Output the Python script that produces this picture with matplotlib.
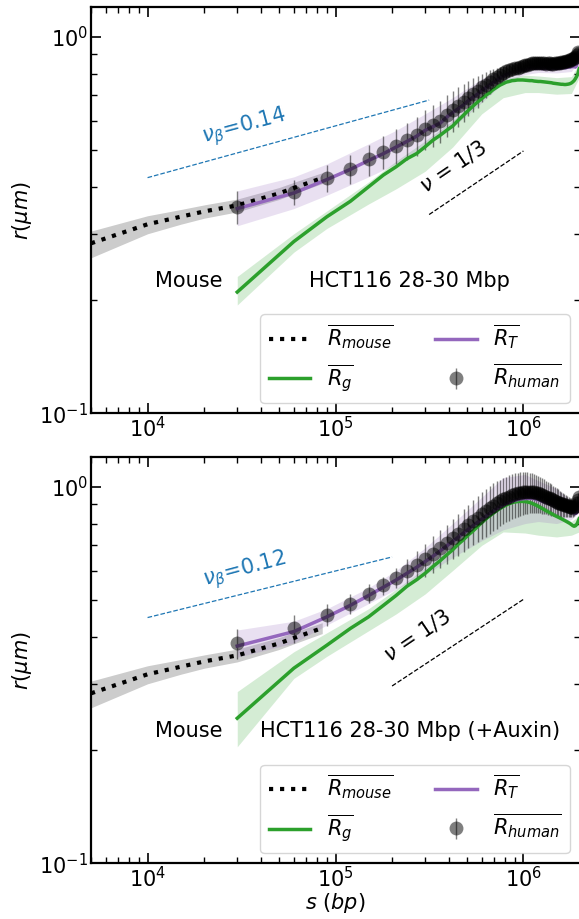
import numpy as np
import matplotlib
matplotlib.use('Agg')
from matplotlib import pyplot as plt

plt.rcParams['font.size'] = 15
plt.rcParams['mathtext.fontset'] = 'dejavusans'

# mouse curve (same in both panels)
s_mouse = [5e3, 1e4, 1.5e4, 2e4, 3e4, 4e4, 5e4, 6e4, 7e4, 8.5e4]
r_mouse = [0.283, 0.318, 0.333, 0.344, 0.357, 0.372, 0.384, 0.397, 0.408, 0.422]
mouse_lo = [0.259, 0.300, 0.318, 0.330, 0.343, 0.358, 0.370, 0.383, 0.394, 0.408]
mouse_hi = [0.305, 0.335, 0.348, 0.358, 0.371, 0.386, 0.398, 0.411, 0.422, 0.436]

# human / T / g grid (30 kb steps)
s_human = np.arange(30, 1981, 30) * 1e3

# ---- top panel: HCT116 28-30 Mbp
r_human_top = [0.354, 0.388, 0.422, 0.447, 0.473, 0.495, 0.514, 0.532, 0.548, 0.571,
               0.585, 0.600, 0.622, 0.640, 0.655, 0.672, 0.690, 0.705, 0.718, 0.735,
               0.748, 0.760, 0.772, 0.783, 0.795, 0.803, 0.810, 0.816, 0.822, 0.826,
               0.830, 0.835, 0.838, 0.842, 0.845, 0.848, 0.851, 0.853, 0.852, 0.855,
               0.853, 0.851, 0.852, 0.850, 0.852, 0.851, 0.849, 0.850, 0.852, 0.851,
               0.853, 0.855, 0.856, 0.858, 0.860, 0.862, 0.864, 0.866, 0.868, 0.872,
               0.876, 0.880, 0.886, 0.897, 0.910, 0.905]
err_human_top = [0.035, 0.030, 0.035, 0.040, 0.045, 0.050, 0.055, 0.060, 0.065, 0.070,
                 0.075, 0.078, 0.080, 0.080, 0.080, 0.078, 0.075, 0.072, 0.070, 0.065,
                 0.060, 0.055, 0.050, 0.045, 0.040, 0.035, 0.035, 0.033, 0.032, 0.030,
                 0.030, 0.030, 0.030, 0.030, 0.030, 0.030, 0.030, 0.028, 0.028, 0.028,
                 0.028, 0.028, 0.027, 0.027, 0.027, 0.027, 0.027, 0.026, 0.026, 0.026,
                 0.026, 0.026, 0.026, 0.025, 0.025, 0.025, 0.025, 0.025, 0.025, 0.025,
                 0.025, 0.025, 0.025, 0.025, 0.025, 0.025]
r_T_top = [0.350, 0.385, 0.418, 0.445, 0.470, 0.490, 0.510, 0.528, 0.545, 0.565,
           0.578, 0.590, 0.612, 0.630, 0.645, 0.660, 0.678, 0.692, 0.705, 0.722,
           0.733, 0.745, 0.756, 0.768, 0.778, 0.787, 0.795, 0.800, 0.806, 0.810,
           0.812, 0.815, 0.817, 0.818, 0.821, 0.824, 0.826, 0.828, 0.825, 0.829,
           0.827, 0.824, 0.826, 0.823, 0.826, 0.824, 0.822, 0.825, 0.827, 0.824,
           0.826, 0.828, 0.826, 0.829, 0.830, 0.828, 0.831, 0.833, 0.832, 0.835,
           0.834, 0.836, 0.832, 0.840, 0.895, 0.905]
r_g_top = [0.210, 0.286, 0.333, 0.366, 0.400, 0.430, 0.452, 0.475, 0.490, 0.511,
           0.532, 0.548, 0.565, 0.580, 0.601, 0.620, 0.639, 0.656, 0.672, 0.686,
           0.700, 0.711, 0.725, 0.735, 0.745, 0.752, 0.759, 0.762, 0.766, 0.767,
           0.769, 0.769, 0.769, 0.768, 0.767, 0.766, 0.766, 0.764, 0.763, 0.762,
           0.762, 0.761, 0.760, 0.759, 0.758, 0.757, 0.756, 0.754, 0.753, 0.752,
           0.751, 0.750, 0.749, 0.749, 0.748, 0.748, 0.749, 0.750, 0.752, 0.755,
           0.760, 0.766, 0.775, 0.786, 0.800, 0.824]

# shaded bands on a coarser grid
s_band = [30e3, 60e3, 90e3, 150e3, 210e3, 300e3, 420e3, 600e3, 780e3,
          1020e3, 1200e3, 1500e3, 1800e3, 1980e3]
T_lo_top = [0.315, 0.350, 0.380, 0.425, 0.460, 0.510, 0.575, 0.670, 0.755, 0.795, 0.805, 0.803, 0.810, 0.870]
T_hi_top = [0.390, 0.425, 0.460, 0.520, 0.565, 0.625, 0.690, 0.775, 0.820, 0.842, 0.850, 0.845, 0.860, 0.930]
g_lo_top = [0.194, 0.268, 0.310, 0.360, 0.395, 0.440, 0.510, 0.625, 0.690, 0.712, 0.712, 0.705, 0.708, 0.780]
g_hi_top = [0.231, 0.300, 0.345, 0.412, 0.468, 0.530, 0.600, 0.705, 0.775, 0.792, 0.788, 0.780, 0.785, 0.850]

# ---- bottom panel: HCT116 28-30 Mbp (+Auxin)
r_human_bot = [0.384, 0.421, 0.458, 0.490, 0.521, 0.548, 0.573, 0.597, 0.620, 0.643,
               0.665, 0.688, 0.710, 0.732, 0.752, 0.772, 0.792, 0.812, 0.830, 0.848,
               0.864, 0.880, 0.893, 0.905, 0.917, 0.927, 0.936, 0.944, 0.951, 0.957,
               0.962, 0.966, 0.969, 0.971, 0.972, 0.972, 0.971, 0.969, 0.966, 0.962,
               0.958, 0.953, 0.948, 0.943, 0.938, 0.933, 0.928, 0.923, 0.918, 0.914,
               0.910, 0.906, 0.903, 0.900, 0.897, 0.894, 0.891, 0.888, 0.885, 0.883,
               0.882, 0.884, 0.892, 0.905, 0.925, 0.940]
err_human_bot = [0.035, 0.035, 0.030, 0.030, 0.030, 0.030, 0.035, 0.045, 0.055, 0.065,
                 0.075, 0.080, 0.085, 0.090, 0.095, 0.100, 0.105, 0.110, 0.115, 0.120,
                 0.125, 0.128, 0.130, 0.130, 0.130, 0.130, 0.130, 0.130, 0.130, 0.130,
                 0.130, 0.128, 0.126, 0.124, 0.122, 0.120, 0.118, 0.115, 0.112, 0.110,
                 0.107, 0.104, 0.100, 0.097, 0.094, 0.091, 0.088, 0.085, 0.082, 0.079,
                 0.076, 0.073, 0.070, 0.067, 0.064, 0.061, 0.058, 0.055, 0.052, 0.050,
                 0.048, 0.046, 0.044, 0.042, 0.040, 0.040]
r_T_bot = [0.378, 0.413, 0.452, 0.485, 0.515, 0.542, 0.566, 0.590, 0.612, 0.634,
           0.655, 0.676, 0.697, 0.717, 0.736, 0.755, 0.773, 0.790, 0.806, 0.822,
           0.836, 0.850, 0.863, 0.875, 0.886, 0.896, 0.905, 0.912, 0.918, 0.922,
           0.926, 0.929, 0.931, 0.932, 0.933, 0.934, 0.935, 0.932, 0.928, 0.925,
           0.921, 0.917, 0.913, 0.910, 0.907, 0.904, 0.901, 0.898, 0.895, 0.892,
           0.890, 0.888, 0.886, 0.884, 0.882, 0.880, 0.878, 0.876, 0.874, 0.870,
           0.860, 0.852, 0.850, 0.855, 0.870, 0.895]
r_g_bot = [0.243, 0.330, 0.380, 0.421, 0.452, 0.485, 0.515, 0.545, 0.567, 0.590,
           0.615, 0.637, 0.660, 0.681, 0.705, 0.725, 0.747, 0.765, 0.785, 0.805,
           0.822, 0.838, 0.852, 0.866, 0.877, 0.887, 0.896, 0.903, 0.909, 0.913,
           0.915, 0.916, 0.916, 0.915, 0.913, 0.910, 0.905, 0.900, 0.895, 0.889,
           0.883, 0.877, 0.871, 0.865, 0.860, 0.855, 0.850, 0.845, 0.840, 0.836,
           0.832, 0.828, 0.824, 0.820, 0.816, 0.812, 0.808, 0.804, 0.800, 0.795,
           0.790, 0.787, 0.789, 0.795, 0.808, 0.824]
T_lo_bot = [0.353, 0.385, 0.430, 0.490, 0.535, 0.585, 0.650, 0.720, 0.770, 0.800, 0.810, 0.800, 0.820, 0.860]
T_hi_bot = [0.417, 0.440, 0.475, 0.540, 0.600, 0.690, 0.800, 0.940, 1.060, 1.080, 1.040, 0.990, 0.920, 0.930]
g_lo_bot = [0.204, 0.310, 0.355, 0.415, 0.460, 0.520, 0.600, 0.700, 0.760, 0.755, 0.745, 0.737, 0.745, 0.760]
g_hi_bot = [0.286, 0.365, 0.410, 0.475, 0.535, 0.610, 0.700, 0.830, 0.910, 0.935, 0.905, 0.850, 0.810, 0.840]

# guide lines: (s endpoints, r endpoints)
beta_s_top = [1e4, 3.15e5]
beta_r_top = [0.423, 0.680]
nu_s_top = [3.15e5, 1e6]
nu_r_top = [0.3375, 0.498]
beta_s_bot = [1e4, 2.0e5]
beta_r_bot = [0.450, 0.652]
nu_s_bot = [2.0e5, 1e6]
nu_r_bot = [0.296, 0.503]

fig = plt.figure(figsize=(5.79, 9.19), dpi=100)
ax1 = fig.add_axes([0.15717, 0.5503, 0.84456, 0.44178])
ax2 = fig.add_axes([0.15717, 0.06061, 0.84456, 0.44178])

panels = [
    (ax1, r_human_top, err_human_top, r_T_top, r_g_top, T_lo_top, T_hi_top, g_lo_top, g_hi_top,
     beta_s_top, beta_r_top, nu_s_top, nu_r_top, r'$\nu_\beta$=0.14', (3.25e4, 0.577),
     (4.2e5, 0.452), 'HCT116 28-30 Mbp'),
    (ax2, r_human_bot, err_human_bot, r_T_bot, r_g_bot, T_lo_bot, T_hi_bot, g_lo_bot, g_hi_bot,
     beta_s_bot, beta_r_bot, nu_s_bot, nu_r_bot, r'$\nu_\beta$=0.12', (3.3e4, 0.601),
     (2.72e5, 0.404), 'HCT116 28-30 Mbp (+Auxin)'),
]

for (ax, rh, eh, rT, rg, Tlo, Thi, glo, ghi, bs, br, ns, nr, btxt, bpos, npos, title) in panels:
    ax.set_xscale('log')
    ax.set_yscale('log')

    ax.fill_between(s_mouse, mouse_lo, mouse_hi, color='gray', alpha=0.4, lw=0)
    ax.fill_between(s_band, glo, ghi, color='tab:green', alpha=0.2, lw=0)
    ax.fill_between(s_band, Tlo, Thi, color='tab:purple', alpha=0.2, lw=0)

    l_mouse, = ax.plot(s_mouse, r_mouse, ':', color='k', lw=3,
                       label=r'$\overline{R_{mouse}}$')
    h_human = ax.errorbar(s_human, rh, yerr=eh, fmt='o', color='k', alpha=0.5,
                          ms=10, mew=0, elinewidth=1, capsize=0,
                          label=r'$\overline{R_{human}}$')
    l_g, = ax.plot(s_human, rg, '-', color='tab:green', lw=2.5, label=r'$\overline{R_g}$')
    l_T, = ax.plot(s_human, rT, '-', color='tab:purple', lw=2.5, label=r'$\overline{R_T}$')

    ax.plot(bs, br, '--', color='tab:blue', lw=0.9)
    ax.plot(ns, nr, '--', color='k', lw=0.9)
    ax.text(bpos[0], bpos[1], btxt, color='tab:blue', fontsize=15, rotation=15,
            ha='center', va='center')
    ax.text(npos[0], npos[1], r'$\nu$ = 1/3', color='k', fontsize=15, rotation=34,
            ha='center', va='center')

    ax.text(0.2, 0.325, 'Mouse', transform=ax.transAxes, ha='center', va='center', fontsize=15)
    ax.text(0.652, 0.325, title, transform=ax.transAxes, ha='center', va='center', fontsize=15)

    ax.legend([l_mouse, l_g, l_T, h_human],
              [r'$\overline{R_{mouse}}$', r'$\overline{R_g}$', r'$\overline{R_T}$',
               r'$\overline{R_{human}}$'],
              ncol=2, loc='lower right', fontsize=15)

    ax.set_xlim(5000, 2e6)
    ax.set_ylim(0.1, 1.2)
    ax.set_ylabel(r'$r(\mu m)$', fontsize=15)
    ax.tick_params(which='both', direction='in', top=True, right=True)
    ax.tick_params(which='major', length=7, width=1.2, labelsize=15, pad=2)
    ax.tick_params(which='minor', length=4, width=1)
    for sp in ax.spines.values():
        sp.set_linewidth(1.6)

ax2.set_xlabel(r'$s$ $(bp)$', fontsize=15, labelpad=0)

plt.savefig('out.png', dpi=100)
